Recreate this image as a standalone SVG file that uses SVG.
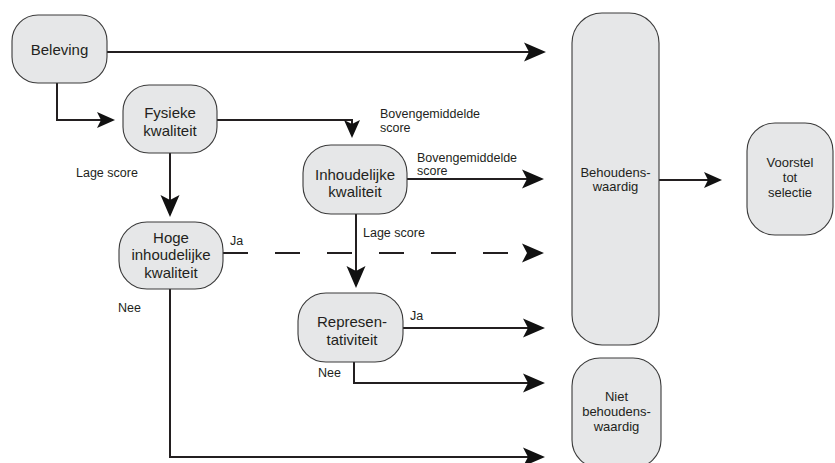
<svg xmlns="http://www.w3.org/2000/svg" width="835" height="463" viewBox="0 0 835 463">
<style>
.node{fill:#e6e7e8;stroke:#3a3a3a;stroke-width:1.1}
.t{font-family:"Liberation Sans",Arial,sans-serif;fill:#231f20;text-anchor:middle}
.n15{font-size:15px}
.n13{font-size:13px}
.lbl{font-family:"Liberation Sans",Arial,sans-serif;fill:#231f20;font-size:12.5px}
.c{fill:none;stroke:#231f20;stroke-width:2}
.big{marker-end:url(#ah)}
.sm{marker-end:url(#as)}
</style>
<defs>
<marker id="ah" markerUnits="userSpaceOnUse" viewBox="-23 -10 24 20" refX="-4" refY="0" markerWidth="24" markerHeight="20" orient="auto">
<path d="M0,0 L-22,-9.5 L-17,0 L-22,9.5 Z" fill="#111"/>
</marker>
<marker id="as" markerUnits="userSpaceOnUse" viewBox="-19 -9 20 18" refX="-4" refY="0" markerWidth="20" markerHeight="18" orient="auto">
<path d="M0,0 L-18,-8 L-14,0 L-18,8 Z" fill="#111"/>
</marker>
</defs>
<g id="connectors">
<path class="c big" d="M107,52 H542"/>
<path class="c sm" d="M57,83 V120 H111"/>
<path class="c sm" d="M217,120 H352 V134"/>
<path class="c big" d="M170,153 V213"/>
<path class="c big" d="M407,179 H540"/>
<path class="c big" d="M356,214 V284"/>
<path class="c big" d="M223,253 H540" stroke-dasharray="25 27"/>
<path class="c big" d="M403,328 H541"/>
<path class="c big" d="M354,362 V383 H541"/>
<path class="c big" d="M170,289 V457 H541"/>
<path class="c sm" d="M659,180 H718"/>
</g>
<g id="labels">
<text class="lbl" x="380" y="118">Bovengemiddelde</text>
<text class="lbl" x="380" y="132">score</text>
<text class="lbl" x="417" y="162">Bovengemiddelde</text>
<text class="lbl" x="417" y="175">score</text>
<text class="lbl" x="76" y="177">Lage score</text>
<text class="lbl" x="363" y="237">Lage score</text>
<text class="lbl" x="230" y="245">Ja</text>
<text class="lbl" x="118" y="312">Nee</text>
<text class="lbl" x="410" y="320">Ja</text>
<text class="lbl" x="318" y="377">Nee</text>
</g>
<g id="beleving">
<rect class="node" x="12" y="15" width="95" height="68" rx="26"/>
<text class="t n15" x="59.5" y="55">Beleving</text>
</g>
<g id="fysieke">
<rect class="node" x="123" y="85" width="94" height="68" rx="26"/>
<text class="t n15" x="170" y="118">Fysieke</text>
<text class="t n15" x="170" y="136">kwaliteit</text>
</g>
<g id="inhoudelijke">
<rect class="node" x="303" y="145" width="104" height="69" rx="28"/>
<text class="t n15" x="355" y="180">Inhoudelijke</text>
<text class="t n15" x="355" y="197">kwaliteit</text>
</g>
<g id="hoge">
<rect class="node" x="119" y="222" width="104" height="67" rx="28"/>
<text class="t n15" x="171" y="243">Hoge</text>
<text class="t n15" x="171" y="260">inhoudelijke</text>
<text class="t n15" x="171" y="278">kwaliteit</text>
</g>
<g id="representativiteit">
<rect class="node" x="298" y="293" width="105" height="69" rx="28"/>
<text class="t n15" x="352" y="327">Represen-</text>
<text class="t n15" x="352" y="345">tativiteit</text>
</g>
<g id="behoudenswaardig">
<rect class="node" x="572" y="13" width="87" height="332" rx="30"/>
<text class="t n13" x="615.5" y="177">Behoudens-</text>
<text class="t n13" x="615.5" y="191">waardig</text>
</g>
<g id="voorstel">
<rect class="node" x="747" y="123" width="86" height="112" rx="28"/>
<text class="t n13" x="790" y="167">Voorstel</text>
<text class="t n13" x="790" y="182">tot</text>
<text class="t n13" x="790" y="197">selectie</text>
</g>
<g id="niet">
<rect class="node" x="572" y="358" width="89" height="110" rx="28"/>
<text class="t n13" x="616.5" y="401">Niet</text>
<text class="t n13" x="616.5" y="416">behoudens-</text>
<text class="t n13" x="616.5" y="431">waardig</text>
</g>
</svg>
